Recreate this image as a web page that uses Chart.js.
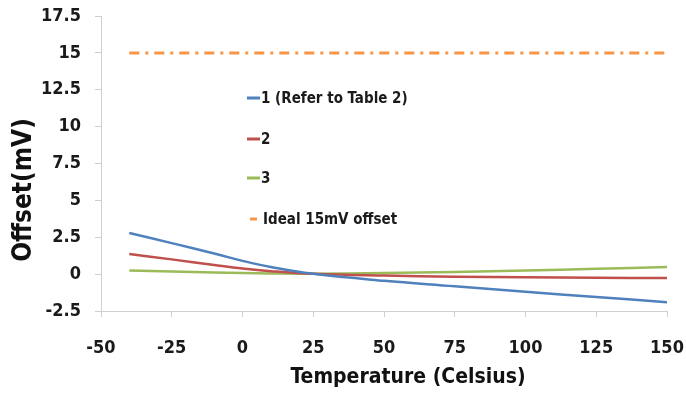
<!DOCTYPE html>
<html>
<head>
<meta charset="utf-8">
<script src="https://cdn.jsdelivr.net/npm/chart.js@4"></script>
<style>
  html, body { margin: 0; padding: 0; background: #fff; }
  #wrap { width: 686px; height: 394px; }
</style>
</head>
<body>
<div id="wrap"><canvas id="offsetChart" width="686" height="394"></canvas></div>
<script>
// temperatures (Celsius) and offsets (mV)
const temps = [-40, -25, -10, 0, 10, 25, 50, 75, 100, 125, 150];
const offset1 = [2.79, 2.1, 1.4, 0.9, 0.48, 0.02, -0.45, -0.82, -1.2, -1.55, -1.9];
const offset2 = [1.36, 1.0, 0.62, 0.38, 0.2, 0.02, -0.1, -0.17, -0.22, -0.25, -0.27];
const offset3 = [0.25, 0.18, 0.11, 0.07, 0.04, 0.03, 0.08, 0.15, 0.25, 0.36, 0.48];
const idealTemps = [-40, 150];
const idealOffset = [15, 15];
const labels = ['1 (Refer to Table 2)', '2', '3', 'Ideal 15mV offset'];
const colors = ['#4F81BD', '#C0504D', '#9BBB59', '#F79646'];
const xTitle = 'Temperature (Celsius)';
const yTitle = 'Offset(mV)';

const fontFam = '"DejaVu Sans Condensed", "Liberation Sans", sans-serif';

function pts(xs, ys) {
    return xs.map((x, i) => ({ x: x, y: ys[i] }));
}

// legend inside the plot + axis titles, placed like the original
const extras = {
    id: 'extras',
    afterDraw(chart) {
        const ctx = chart.ctx;
        const ys = [98, 139, 178, 219];
        ctx.save();
        ctx.font = 'bold 15px ' + fontFam;
        ctx.textBaseline = 'middle';
        chart.data.datasets.forEach((ds, i) => {
            ctx.strokeStyle = ds.borderColor;
            ctx.lineWidth = 3;
            ctx.beginPath();
            if (i == 3) {
                ctx.moveTo(250, ys[i]);
                ctx.lineTo(257, ys[i]);
            } else {
                ctx.moveTo(247, ys[i]);
                ctx.lineTo(260, ys[i]);
            }
            ctx.stroke();
            ctx.fillStyle = '#1a1a1a';
            ctx.fillText(ds.label, i == 3 ? 263 : 261, ys[i] + 1);
        });

        ctx.fillStyle = '#111';
        ctx.textAlign = 'center';
        ctx.font = 'bold 21px ' + fontFam;
        ctx.fillText(xTitle, 408, 378);

        ctx.translate(24, 190);
        ctx.rotate(-Math.PI / 2);
        ctx.font = 'bold 26px ' + fontFam;
        ctx.fillText(yTitle, 0, 0);
        ctx.restore();
    }
};

new Chart(document.querySelector('#offsetChart'), {
    type: 'line',
    data: {
        datasets: [
            { label: labels[0], data: pts(temps, offset1), borderColor: colors[0], borderWidth: 2.5, tension: 0.4 },
            { label: labels[1], data: pts(temps, offset2), borderColor: colors[1], borderWidth: 2.5, tension: 0.4 },
            { label: labels[2], data: pts(temps, offset3), borderColor: colors[2], borderWidth: 2.5, tension: 0.4 },
            { label: labels[3], data: pts(idealTemps, idealOffset), borderColor: colors[3], borderWidth: 3, borderDash: [10, 6, 3, 6] }
        ]
    },
    options: {
        responsive: false,
        animation: false,
        layout: { padding: { top: 16, right: 19, left: 0, bottom: 0 } },
        elements: { point: { radius: 0 } },
        plugins: {
            legend: { display: false },
            tooltip: { enabled: false }
        },
        scales: {
            x: {
                type: 'linear',
                min: -50,
                max: 150,
                ticks: { stepSize: 25, color: '#1a1a1a', padding: 21, font: { family: fontFam, size: 18, weight: 'bold' } },
                grid: { drawOnChartArea: false, color: '#d0d0d0', tickLength: 6 },
                border: { color: '#d0d0d0' },
                afterFit(scale) {
                    scale.height = 83;
                    scale.paddingLeft = 0;
                    scale.paddingRight = 0;
                }
            },
            y: {
                min: -2.5,
                max: 17.5,
                ticks: { stepSize: 2.5, color: '#1a1a1a', padding: 14, font: { family: fontFam, size: 18, weight: 'bold' } },
                grid: { drawOnChartArea: false, color: '#d0d0d0', tickLength: 6 },
                border: { color: '#d0d0d0' },
                afterFit(scale) {
                    scale.width = 101;
                    scale.paddingTop = 0;
                    scale.paddingBottom = 0;
                }
            }
        }
    },
    plugins: [extras]
});
</script>
</body>
</html>
